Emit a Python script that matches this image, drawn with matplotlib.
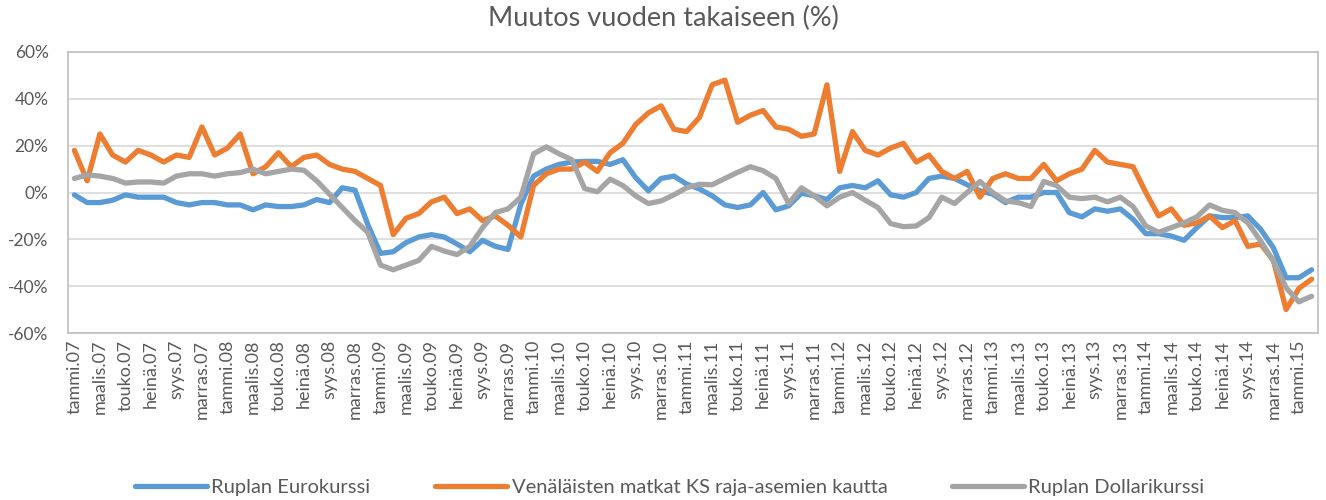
import matplotlib
matplotlib.use("Agg")
import matplotlib.pyplot as plt
from matplotlib.ticker import FixedLocator, FuncFormatter

plt.rcParams['font.family'] = ['Lato', 'DejaVu Sans']

month_names = ["tammi", "helmi", "maalis", "huhti", "touko", "kesä",
               "heinä", "elo", "syys", "loka", "marras", "joulu"]
years = ["07", "08", "09", "10", "11", "12", "13", "14", "15"]
categories = [f"{m}.{y}" for y in years for m in month_names][:98]

ruplan_eurokurssi = [
    -1, -4.3, -4.3, -3.3, -1, -2, -2, -2, -4.3, -5.3,
    -4.3, -4.3, -5.3, -5.3, -7.4, -5.3, -6, -6, -5.3, -3,
    -4.3, 2, 1, -13.6, -26, -25.3, -21.4, -19, -18, -19,
    -22, -25.3, -20.4, -23, -24.3, -5, 7, 10, 12, 13,
    13.3, 13.3, 12, 14, 6.4, 0.7, 6, 7, 3.6, 1.5,
    -1.4, -5.3, -6.4, -5.3, 0, -7.4, -5.7, -0.3, -1.4, -3,
    2, 3, 2, 5, -1, -2, 0, 6, 7, 6,
    3.3, 0.7, -0.7, -4.3, -2, -2, 0, 0, -8.6, -10.4,
    -7, -8, -7, -11.4, -17.6, -17.6, -18.6, -20.4, -15, -10,
    -10.7, -10.7, -10, -15.7, -23.6, -36.4, -36.4, -33,
]

venalaisten_matkat = [
    18, 5, 25, 16, 13, 18, 16, 13, 16, 15,
    28, 16, 19, 25, 8, 11, 17, 11, 15, 16,
    12, 10, 9, 6, 3, -18, -11, -9, -4, -2,
    -9, -7, -12, -10, -14, -19, 3, 8, 10, 10,
    13, 9, 17, 21, 29, 34, 37, 27, 26, 32,
    46, 48, 30, 33, 35, 28, 27, 24, 25, 46,
    9, 26, 18, 16, 19, 21, 13, 16, 9, 6,
    9, -2, 6, 8, 6, 6, 12, 5, 8, 10,
    18, 13, 12, 11, 0, -10, -7, -14, -13, -10,
    -15, -12, -23, -22, -29, -50, -41, -37,
]

ruplan_dollarikurssi = [
    6, 7.5, 7, 6, 4, 4.5, 4.5, 4, 7, 8,
    8, 7, 8, 8.5, 10, 8, 9, 10, 9.5, 5,
    -0.7, -6.4, -12, -17, -31, -33, -31, -29, -23, -25,
    -26.5, -23, -15, -8.6, -7, -2, 16.5, 19.5, 16.5, 14,
    1.7, 0.3, 5.7, 3, -1.4, -4.7, -3.6, -1, 2, 3.5,
    3.3, 6, 8.6, 11, 9.3, 6, -4.7, 2, -1.4, -5.7,
    -2, 0, -3.3, -6.4, -13.3, -14.6, -14.3, -10.7, -2, -4.7,
    0, 4.7, 0, -3.6, -4.3, -6, 4.7, 3, -2, -2.6,
    -2, -4, -2, -6, -14.3, -17, -15, -13, -10.4, -5.3,
    -7.6, -8.6, -13, -20.7, -29.3, -40.7, -46.7, -44.3,
]

series_names = ["Ruplan Eurokurssi", "Venäläisten matkat KS raja-asemien kautta",
                "Ruplan Dollarikurssi"]
series_colors = ["#5B9BD5", "#ED7D31", "#A5A5A5"]
y_ticks = [-60, -40, -20, 0, 20, 40, 60]
title = "Muutos vuoden takaiseen (%)"

fig = plt.figure(figsize=(13.26, 5.0), dpi=100)
ax = fig.add_axes([68 / 1326, 1 - 333 / 500, (1318 - 68) / 1326, (333 - 52) / 500])

x = list(range(len(categories)))
for data, name, col in zip([ruplan_eurokurssi, venalaisten_matkat, ruplan_dollarikurssi],
                           series_names, series_colors):
    ax.plot(x, data, color=col, linewidth=3.8, label=name, solid_joinstyle='round',
            solid_capstyle='round')

ax.set_xlim(-0.5, len(categories) - 0.5)
ax.set_ylim(-60, 60)
ax.yaxis.set_major_locator(FixedLocator(y_ticks))
ax.yaxis.set_major_formatter(FuncFormatter(lambda v, p: f"{v:.0f}%"))
ax.set_xticks(x[::2])
ax.set_xticklabels(categories[::2], rotation=90)
ax.grid(axis='y', color='#D9D9D9', linewidth=1.2)
ax.set_axisbelow(True)
for s in ax.spines.values():
    s.set_color('#BFBFBF')
    s.set_linewidth(1.2)
ax.tick_params(axis='both', length=0, colors='#595959')
ax.tick_params(axis='y', labelsize=12.5, pad=14)
ax.tick_params(axis='x', labelsize=13, pad=5)

fig.text(0.5, 1 - 18 / 500, title, ha='center', va='center', fontsize=19.5, color='#595959')

fig.legend(loc='center', bbox_to_anchor=(0.505, 1 - 487 / 500), ncol=3, frameon=False,
           fontsize=14.5, handlelength=3.6, columnspacing=3.2, handletextpad=0.2,
           labelcolor='#595959')

fig.savefig("out.png", dpi=100)
